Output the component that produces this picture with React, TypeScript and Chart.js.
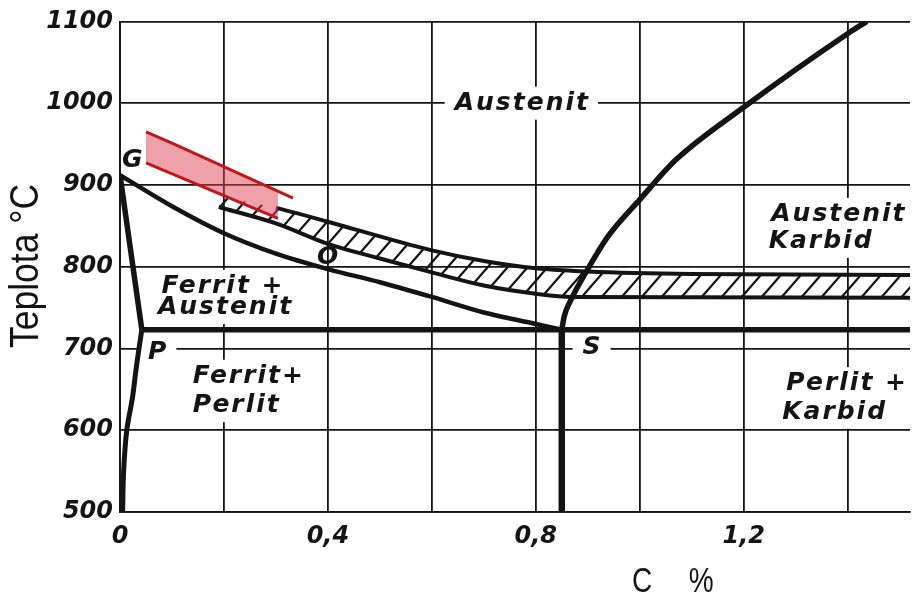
import React, { useEffect, useRef } from "react";
import { Chart, registerables } from "chart.js";

Chart.register(...registerables);

// ---- axes ----
const X_MIN = 0;
const X_MAX = 1.52;
const X_STEP = 0.2;
const T_MIN = 500;
const T_MAX = 1100;
const T_STEP = 100;
const xTickValues = [0, 0.4, 0.8, 1.2];
const xTickLabels = ["0", "0,4", "0,8", "1,2"];
const yTickValues = [500, 600, 700, 800, 900, 1000, 1100];
const yTickLabels = ["500", "600", "700", "800", "900", "1000", "1100"];
const yAxisTitle = "Teplota °C";
const xAxisTitle = "C %";

// ---- phase boundary lines (C %, °C) ----
const gsC = [0, 0.1, 0.2, 0.3, 0.4, 0.5, 0.6, 0.7, 0.8, 0.85];
const gsT = [912, 874, 841, 816, 797, 781, 763, 744, 730, 723];
const gpC = [0, 0.042];
const gpT = [912, 723];
const pqC = [0.042, 0.032, 0.024, 0.013, 0.007, 0.005];
const pqT = [723, 680, 640, 600, 550, 500];
const pkC = [0.042, 1.52];
const pkT = [723, 723];
const skC = [0.85, 0.85];
const skT = [723, 500];
const seC = [0.85, 0.855, 0.865, 0.9, 0.94, 1.0, 1.07, 1.2, 1.4, 1.437];
const seT = [723, 740, 756, 797, 838, 882, 931, 995, 1085, 1100];

// ---- hatched hardening band (upper edge hidden below 0.3 % C, under the red band) ----
const BAND_UP_VISIBLE_FROM = 0.3;
const bandUpC = [0.19, 0.3, 0.45, 0.6, 0.7, 0.8, 0.9, 1.1, 1.52];
const bandUpT = [886, 872, 846, 820, 807, 798, 794, 791, 790];
const bandLoC = [0.19, 0.3, 0.4, 0.5, 0.6, 0.7, 0.8, 0.87, 1.52];
const bandLoT = [873, 853, 828, 810, 793, 777, 767, 763, 762];

// ---- red band ----
const redUpC = [0.05, 0.1, 0.333];
const redUpT = [965, 951, 884];
const redLoC = [0.05, 0.304];
const redLoT = [927, 859];

// ---- text annotations (left edge C, centre T) ----
const noteTexts = [
  "Austenit",
  "Ferrit +",
  "Austenit",
  "Ferrit+",
  "Perlit",
  "Austenit +",
  "Karbid",
  "Perlit +",
  "Karbid",
  "G",
  "O",
  "P",
  "S",
];
const noteC = [0.644, 0.08, 0.073, 0.14, 0.14, 1.253, 1.248, 1.282, 1.274, 0.004, 0.379, 0.054, 0.89];
const noteT = [1000, 776, 750, 666, 630, 864, 831, 657, 622, 930, 811, 695, 701];
const noteBg = [true, true, true, true, true, true, true, true, true, false, false, true, true];

const pts = (c: number[], t: number[]) => c.map((v, i) => ({ x: v, y: t[i] }));

const INK = "#141414";
const RED = "#c2161d";
const NOTE_FONT = 'italic bold 25px "DejaVu Sans", sans-serif';
const NOTE_SPACING = "2px";

function makeHatch(main: HTMLCanvasElement): CanvasPattern | string {
  const w = 20;
  const h = 23;
  const c = document.createElement("canvas");
  c.width = w;
  c.height = h;
  const g = c.getContext("2d");
  if (!g) return "rgba(0,0,0,0.2)";
  g.strokeStyle = INK;
  g.lineWidth = 2.2;
  g.beginPath();
  for (const ox of [-w, 0, w]) {
    g.moveTo(ox - 0.2 * w, h + 0.2 * h);
    g.lineTo(ox + w + 0.2 * w, -0.2 * h);
  }
  g.stroke();
  const mctx = main.getContext("2d");
  const p = mctx ? mctx.createPattern(c, "repeat") : null;
  return p || "rgba(0,0,0,0.2)";
}

const notesPlugin = {
  id: "phaseNotes",
  beforeDatasetsDraw(chart: any) {
    const { ctx, scales } = chart;
    const xs = scales.x;
    const ys = scales.y;
    ctx.save();
    ctx.font = NOTE_FONT;
    (ctx as any).letterSpacing = NOTE_SPACING;
    ctx.fillStyle = "#ffffff";
    noteTexts.forEach((t, i) => {
      if (!noteBg[i]) return;
      const px = xs.getPixelForValue(noteC[i]);
      const py = ys.getPixelForValue(noteT[i]);
      const w = ctx.measureText(t).width;
      ctx.fillRect(px - 10, py - 16.5, w + 18, 33);
    });
    ctx.restore();
  },
  afterDatasetsDraw(chart: any) {
    const { ctx, scales } = chart;
    const xs = scales.x;
    const ys = scales.y;
    ctx.save();
    ctx.font = NOTE_FONT;
    (ctx as any).letterSpacing = NOTE_SPACING;
    ctx.fillStyle = INK;
    ctx.textAlign = "left";
    ctx.textBaseline = "middle";
    noteTexts.forEach((t, i) => {
      ctx.fillText(t, xs.getPixelForValue(noteC[i]), ys.getPixelForValue(noteT[i]));
    });
    ctx.restore();
  },
  afterDraw(chart: any) {
    const { ctx } = chart;
    ctx.save();
    ctx.fillStyle = INK;
    ctx.textBaseline = "middle";
    // y axis title
    ctx.save();
    ctx.translate(27, 266);
    ctx.rotate(-Math.PI / 2);
    ctx.scale(0.887, 1);
    ctx.font = '40px "Liberation Sans", Arial, sans-serif';
    ctx.textAlign = "center";
    ctx.fillText(yAxisTitle, 0, 0);
    ctx.restore();
    // x axis title
    ctx.save();
    ctx.translate(632, 582);
    ctx.scale(0.8, 1);
    ctx.font = '35px "Liberation Sans", Arial, sans-serif';
    (ctx as any).wordSpacing = "36px";
    ctx.textAlign = "left";
    ctx.fillText(xAxisTitle, 0, 0);
    ctx.restore();
    ctx.restore();
  },
};

export default function App() {
  const ref = useRef<HTMLCanvasElement>(null);

  useEffect(() => {
    const canvas = ref.current;
    if (!canvas) return;
    const hatch = makeHatch(canvas);

    const line = (data: any[], width: number, extra: any = {}) => ({
      data,
      borderColor: INK,
      borderWidth: width,
      pointRadius: 0,
      pointHoverRadius: 0,
      fill: false,
      borderJoinStyle: "round",
      borderCapStyle: "butt",
      order: 3,
      ...extra,
    });

    const chart = new Chart(canvas, {
      type: "line",
      data: {
        datasets: [
          line(pts(gsC, gsT), 4.5, { label: "GS", cubicInterpolationMode: "monotone" }),
          line(pts(gpC, gpT), 5.5, { label: "GP" }),
          line(pts(pqC, pqT), 5, { label: "PQ", tension: 0.3 }),
          line(pts(pkC, pkT), 5.5, { label: "PSK" }),
          line(pts(skC, skT), 6.5, { label: "S" }),
          line(pts(seC, seT), 5.5, { label: "SE", cubicInterpolationMode: "monotone" }),
          line(pts(bandUpC, bandUpT), 4, {
            label: "band upper",
            cubicInterpolationMode: "monotone",
            fill: 7,
            backgroundColor: hatch,
            order: 5,
            segment: {
              borderColor: (sctx: any) =>
                sctx.p0.parsed.x < BAND_UP_VISIBLE_FROM - 1e-9 ? "rgba(0,0,0,0)" : INK,
            },
          }),
          line(pts(bandLoC, bandLoT), 4, {
            label: "band lower",
            cubicInterpolationMode: "monotone",
            order: 4,
          }),
          line(pts(redUpC, redUpT), 3, {
            label: "red upper",
            borderColor: RED,
            fill: 9,
            backgroundColor: "rgba(222, 66, 88, 0.5)",
            order: 2,
          }),
          line(pts(redLoC, redLoT), 3, {
            label: "red lower",
            borderColor: RED,
            order: 1,
          }),
        ],
      },
      options: {
        responsive: false,
        devicePixelRatio: 1,
        animation: false,
        events: [],
        layout: { padding: { left: 0, right: 4, top: 21, bottom: 0 } },
        plugins: {
          legend: { display: false },
          tooltip: { enabled: false },
        },
        scales: {
          x: {
            type: "linear",
            min: X_MIN,
            max: X_MAX,
            afterFit: (s: any) => {
              s.height = 89;
            },
            grid: { color: INK, lineWidth: 1.8, drawTicks: false },
            border: { display: true, color: INK, width: 1.8 },
            ticks: {
              stepSize: X_STEP,
              includeBounds: false,
              autoSkip: false,
              maxRotation: 0,
              padding: 10,
              color: INK,
              font: { family: "DejaVu Sans", size: 24, style: "italic", weight: "bold" },
              callback: (v: any) => {
                const i = xTickValues.findIndex((t) => Math.abs(t - Number(v)) < 1e-6);
                return i >= 0 ? xTickLabels[i] : "";
              },
            },
          },
          y: {
            type: "linear",
            min: T_MIN,
            max: T_MAX,
            afterFit: (s: any) => {
              s.width = 120;
            },
            grid: { color: INK, lineWidth: 1.8, drawTicks: false },
            border: { display: true, color: INK, width: 1.8 },
            ticks: {
              stepSize: T_STEP,
              autoSkip: false,
              padding: 7,
              color: INK,
              font: { family: "DejaVu Sans", size: 24, style: "italic", weight: "bold" },
              callback: (v: any) => {
                const i = yTickValues.findIndex((t) => Math.abs(t - Number(v)) < 1e-6);
                return i >= 0 ? yTickLabels[i] : "";
              },
            },
          },
        },
      } as any,
      plugins: [notesPlugin],
    });

    return () => chart.destroy();
  }, []);

  return (
    <div
      style={{
        position: "fixed",
        left: 0,
        top: 0,
        width: 914,
        height: 601,
        background: "#ffffff",
      }}
    >
      <canvas ref={ref} width={914} height={601} style={{ display: "block" }} />
    </div>
  );
}
